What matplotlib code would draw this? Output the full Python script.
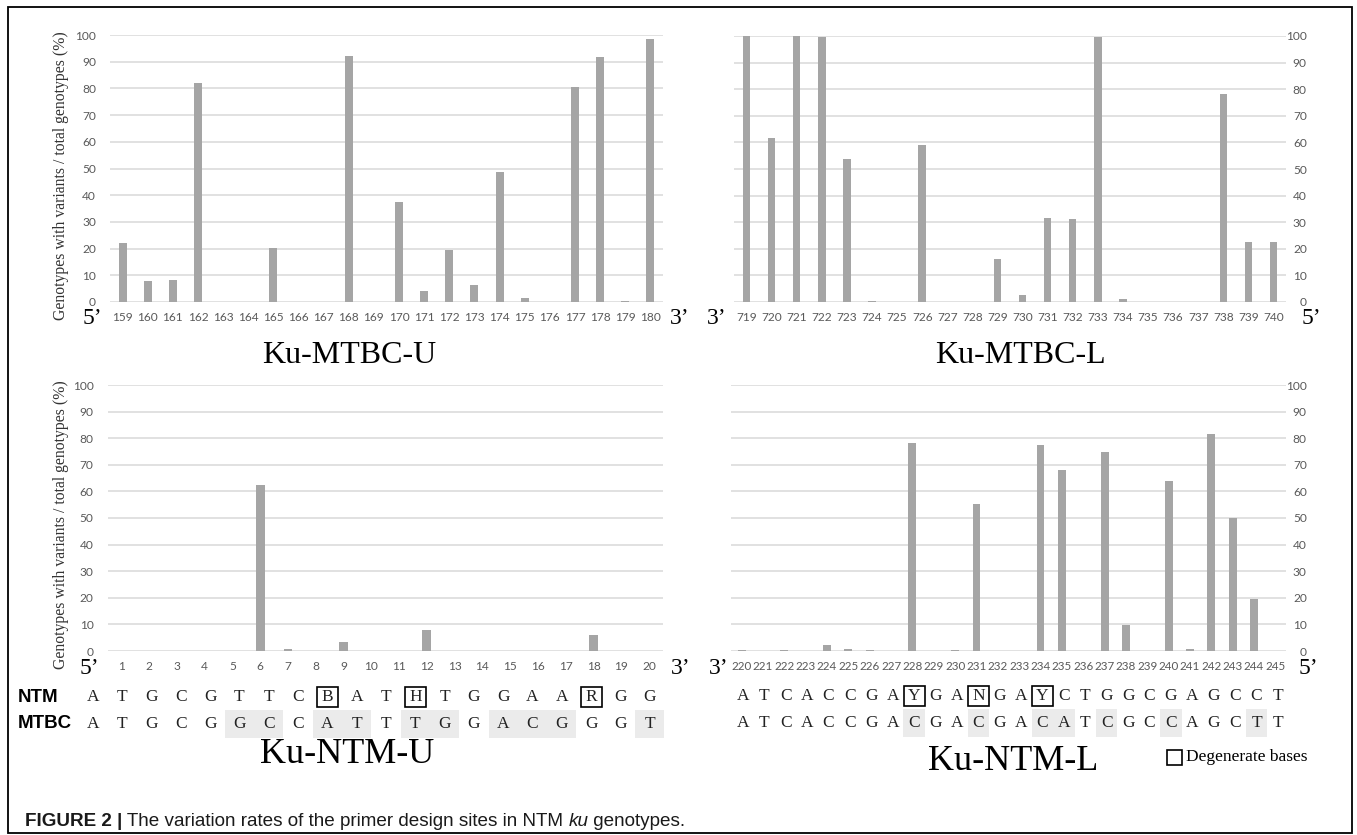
import matplotlib
matplotlib.use("Agg")
import matplotlib.pyplot as plt
from matplotlib.patches import Rectangle

# ---------------- data ----------------
pos_mtbc_u = list(range(159, 181))
var_mtbc_u = [22, 8, 8.3, 82, 0, 0, 20.3, 0, 0, 92.3, 0, 37.5, 4.1, 19.5, 6.2,
              48.6, 1.6, 0, 80.4, 91.9, 0.5, 98.5]

pos_mtbc_l = list(range(719, 741))
var_mtbc_l = [100, 61.6, 100, 99.5, 53.7, 0.4, 0, 59.2, 0, 0, 16.3, 2.6, 31.6,
              31.1, 99.6, 1.2, 0, 0, 0, 78.2, 22.4, 22.4]

pos_ntm_u = list(range(1, 21))
var_ntm_u = [0, 0, 0, 0, 0, 62.3, 0.7, 0, 3.3, 0, 0, 7.9, 0, 0, 0, 0, 0, 6.2, 0, 0]

pos_ntm_l = list(range(220, 246))
var_ntm_l = [0.5, 0, 0.4, 0, 2.1, 0.7, 0.4, 0, 78.2, 0, 0.4, 55.2, 0, 0, 77.4,
             68.0, 0, 75.0, 9.6, 0, 63.8, 0.7, 81.4, 50.0, 19.4, 0]

seq_ntm_u = list("ATGCGTTCBATHTGGAARGG")
seq_mtbc_u = list("ATGCGGCCATTTGGACGGGT")
diff_u = [6, 7, 9, 10, 12, 13, 15, 16, 17, 20]

seq_ntm_l = list("ATCACCGAYGANGAYCTGGCGAGCCT")
seq_mtbc_l = list("ATCACCGACGACGACATCGCCAGCTT")
diff_l = [9, 12, 15, 16, 18, 21, 25]

titles = ["Ku-MTBC-U", "Ku-MTBC-L", "Ku-NTM-U", "Ku-NTM-L"]
ylabel = "Genotypes with variants / total genotypes (%)"
caption_bold = "FIGURE 2 |"
caption_1 = " The variation rates of the primer design sites in NTM "
caption_it = "ku"
caption_2 = " genotypes."

# ---------------- figure ----------------
W, H = 1357, 835
fig = plt.figure(figsize=(W / 100, H / 100), dpi=100)
fig.patch.set_facecolor("white")

BAR = "#a5a5a5"
GRID = "#d9d9d9"
TICK = "#595959"
SERIF = "Liberation Serif"
SANS_T = "Lato"


def box(x0, y0, x1, y1):
    return [x0 / W, 1 - y1 / H, (x1 - x0) / W, (y1 - y0) / H]


def panel(rect, cats, vals, width, right=False, fs=8.6):
    ax = fig.add_axes(rect)
    ax.bar(range(len(vals)), vals, width=width, color=BAR, zorder=3)
    ax.set_xlim(-0.5, len(vals) - 0.5)
    ax.set_ylim(0, 100)
    ax.set_yticks(range(0, 101, 10))
    ax.set_xticks(range(len(cats)))
    ax.set_xticklabels([str(c) for c in cats], fontsize=fs, family=SANS_T,
                       color=TICK)
    for s in ax.spines.values():
        s.set_visible(False)
    ax.yaxis.grid(True, color=GRID, lw=1.1, zorder=0)
    ax.set_axisbelow(True)
    ax.tick_params(length=0, axis="x", pad=7.5)
    if right:
        ax.yaxis.tick_right()
        ax.tick_params(axis="y", length=0, pad=15, labelsize=8.6,
                       labelcolor=TICK)
        for t in ax.get_yticklabels():
            t.set_ha("right")
            t.set_family(SANS_T)
    else:
        ax.tick_params(axis="y", length=0, pad=10, labelsize=8.6,
                       labelcolor=TICK)
        for t in ax.get_yticklabels():
            t.set_family(SANS_T)
    return ax


ax1 = panel(box(110, 35, 663, 302), pos_mtbc_u, var_mtbc_u, 0.32)
ax2 = panel(box(734, 36, 1286, 302), pos_mtbc_l, var_mtbc_l, 0.30, right=True)
ax3 = panel(box(107.5, 385, 663, 651), pos_ntm_u, var_ntm_u, 0.32)
ax4 = panel(box(731, 385, 1286, 651), pos_ntm_l, var_ntm_l, 0.37, right=True,
            fs=8.4)

# ---------------- overlay in pixel coordinates ----------------
ov = fig.add_axes([0, 0, 1, 1], zorder=10)
ov.set_xlim(0, W)
ov.set_ylim(H, 0)
ov.axis("off")
ov.patch.set_visible(False)

# outer frame
ov.add_patch(Rectangle((8, 7), 1344, 826, fill=False, ec="black", lw=1.3))

# y labels
for yc in (176, 525):
    ov.text(61, yc, ylabel, rotation=90, ha="center", va="center",
            family=SERIF, fontsize=11.3, color="#333333")

# 5'/3' labels
ends = [(92, 318, "5’"), (680, 318, "3’"), (717, 318, "3’"), (1311, 318, "5’"),
        (89, 668, "5’"), (681, 668, "3’"), (719, 668, "3’"), (1308, 668, "5’")]
for x, y, s in ends:
    ov.text(x, y, s, ha="center", va="center", family=SERIF, fontsize=17,
            color="black")

# titles (baseline placed)
ov.text(349, 363, titles[0], ha="center", va="baseline", family=SERIF,
        fontsize=23)
ov.text(1020, 363, titles[1], ha="center", va="baseline", family=SERIF,
        fontsize=23)
ov.text(347, 763, titles[2], ha="center", va="baseline", family=SERIF,
        fontsize=26)
ov.text(1013, 770, titles[3], ha="center", va="baseline", family=SERIF,
        fontsize=26)


def seq_rows(x0, dx, y_top, y_bot, top, bot, diffs):
    for i, (a, b) in enumerate(zip(top, bot)):
        x = x0 + i * dx
        if a not in "ACGT":
            ov.add_patch(Rectangle((x - 10.5, y_top - 10), 21, 20, fill=False,
                                   ec="black", lw=1.2))
        if (i + 1) in diffs:
            ov.add_patch(Rectangle((x - dx / 2, y_bot - 14), dx, 28,
                                   fc="#ebebeb", ec="none", zorder=0))
        ov.text(x, y_top, a, ha="center", va="center", family=SERIF,
                fontsize=12.5, color="#222222")
        ov.text(x, y_bot, b, ha="center", va="center", family=SERIF,
                fontsize=12.5, color="#222222")


seq_rows(93, 29.3, 697, 724, seq_ntm_u, seq_mtbc_u, diff_u)
seq_rows(742.9, 21.4, 696, 723, seq_ntm_l, seq_mtbc_l, diff_l)

ov.text(18, 697, "NTM", ha="left", va="center", family="Liberation Sans",
        fontsize=13.5, fontweight="bold")
ov.text(18, 724, "MTBC", ha="left", va="center", family="Liberation Sans",
        fontsize=13.5, fontweight="bold")

# legend for degenerate bases
ov.add_patch(Rectangle((1167, 750), 15, 15, fill=False, ec="black", lw=1.2))
ov.text(1186, 757, "Degenerate bases", ha="left", va="center", family=SERIF,
        fontsize=12.5)

# caption
CF = 13.6
t0 = ov.text(25, 822, caption_bold, ha="left", va="center",
             family="Liberation Sans", fontsize=CF, fontweight="bold",
             color="#1a1a1a")
t1 = ov.annotate(caption_1, xy=(1, 0), xycoords=t0, ha="left", va="bottom",
                 family="Liberation Sans", fontsize=CF, color="#1a1a1a")
t2 = ov.annotate(caption_it, xy=(1, 0), xycoords=t1, ha="left", va="bottom",
                 family="Liberation Sans", fontsize=CF, style="italic",
                 color="#1a1a1a")
ov.annotate(caption_2, xy=(1, 0), xycoords=t2, ha="left", va="bottom",
            family="Liberation Sans", fontsize=CF, color="#1a1a1a")

fig.savefig("out.png", dpi=100)
